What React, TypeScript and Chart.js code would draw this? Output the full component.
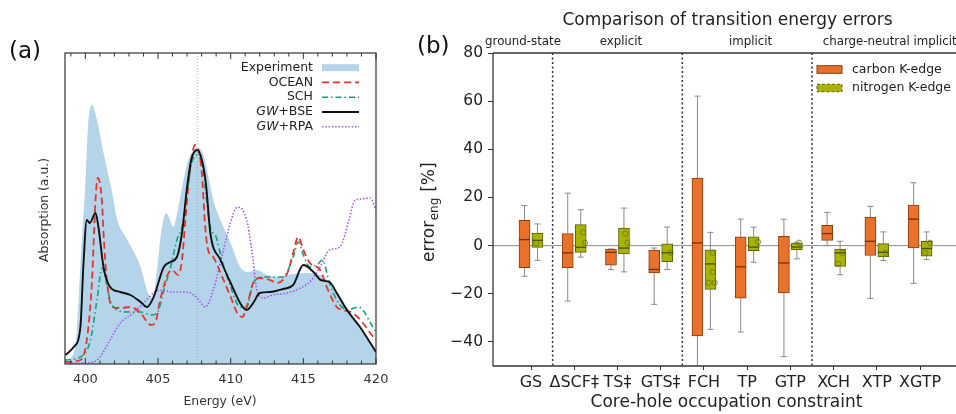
import React, { useEffect, useRef } from "react";
import { Chart, registerables } from "chart.js";

Chart.register(...registerables);

const FONT = "'DejaVu Sans', Verdana, sans-serif";
Chart.defaults.font.family = FONT;

// ---------------- Panel (a): X-ray absorption spectra ----------------
const energyTicks = [400, 405, 410, 415, 420];
const peakEnergy = 407.7;

const expEnergy = [398.6, 399.0, 399.4, 399.7, 400.0, 400.2, 400.46, 400.8, 401.25, 401.85, 402.2, 402.9, 403.8, 404.3, 404.65, 404.9, 405.2, 405.55, 405.8, 406.06, 406.3, 406.5, 407.0, 407.4, 407.7, 408.1, 408.5, 408.8, 409.3, 410.0, 410.65, 411.2, 411.8, 412.5, 413.2, 414.3, 415.25, 416.15, 416.8, 418.0, 418.9, 420.0];
const expAbs = [0, 5, 30, 110, 180, 240, 259, 244, 211, 171, 144, 124, 97, 71, 66, 90, 130, 151, 145, 137, 150, 164, 200, 213, 216, 210, 185, 164, 144, 121, 97, 92, 94, 89, 87, 90, 91, 89, 81, 57, 37, 14];

const oceanEnergy = [398.6, 399.66, 400.1, 400.45, 400.7, 400.85, 401.15, 401.25, 401.5, 401.85, 402.4, 403.1, 403.8, 404.5, 404.8, 405.15, 405.6, 405.95, 406.4, 406.65, 406.9, 407.2, 407.55, 408.0, 408.25, 408.45, 408.8, 409.3, 410.0, 410.45, 410.8, 411.1, 411.55, 412.0, 412.7, 413.2, 413.9, 414.3, 414.65, 415.0, 415.45, 416.15, 416.7, 417.3, 417.7, 418.4, 419.1, 419.7, 420.0];
const oceanAbs = [2, 4, 24, 81, 164, 186, 161, 131, 81, 57, 56, 57, 51, 39, 41, 64, 87, 94, 89, 104, 147, 194, 219, 194, 137, 114, 107, 91, 67, 51, 47, 57, 81, 86, 84, 81, 91, 111, 127, 114, 101, 94, 74, 57, 54, 51, 41, 29, 24];

const schEnergy = [398.6, 399.66, 400.35, 400.8, 401.15, 401.4, 401.7, 402.2, 402.9, 403.8, 404.5, 404.95, 405.4, 405.85, 406.3, 406.65, 407.0, 407.3, 407.7, 408.1, 408.3, 408.6, 409.0, 409.4, 410.0, 410.65, 411.1, 411.55, 412.25, 412.9, 413.6, 414.3, 414.65, 415.0, 415.45, 416.0, 416.3, 416.8, 417.3, 418.0, 418.8, 419.1, 419.7, 420.0];
const schAbs = [4, 7, 24, 64, 96, 85, 64, 54, 52, 52, 49, 51, 74, 96, 124, 137, 170, 200, 209, 195, 170, 137, 127, 104, 77, 57, 57, 81, 87, 87, 87, 107, 122, 109, 97, 100, 104, 81, 64, 54, 57, 54, 39, 32];

const bseEnergy = [398.63, 399.2, 399.66, 399.86, 400.1, 400.3, 400.7, 400.9, 401.25, 401.7, 402.4, 403.1, 403.8, 404.25, 404.7, 405.4, 405.85, 406.3, 406.65, 407.0, 407.3, 407.7, 408.0, 408.3, 408.6, 409.3, 410.0, 410.65, 411.1, 411.55, 412.0, 412.7, 413.6, 414.3, 415.0, 415.7, 416.2, 416.8, 417.3, 418.0, 418.9, 420.0];
const bseAbs = [9, 17, 37, 97, 144, 141, 151, 137, 97, 77, 72, 69, 62, 57, 67, 97, 102, 107, 131, 177, 205, 214, 205, 180, 131, 104, 81, 61, 54, 61, 71, 72, 75, 79, 99, 92, 84, 82, 71, 54, 37, 12];

const rpaEnergy = [398.6, 399.66, 400.55, 401.0, 401.7, 402.4, 403.3, 404.0, 404.7, 405.15, 406.05, 407.0, 407.7, 408.25, 408.8, 409.5, 410.2, 410.5, 411.1, 411.45, 411.8, 412.25, 412.9, 413.9, 414.8, 415.45, 416.15, 416.8, 417.5, 418.2, 418.5, 419.0, 419.6, 420.0];
const rpaAbs = [1, 1, 2, 7, 24, 41, 51, 61, 71, 74, 72, 72, 66, 57, 74, 114, 151, 157, 144, 114, 74, 66, 69, 71, 76, 82, 97, 114, 117, 147, 163, 165, 166, 154];

const legendALabels = ["Experiment", "OCEAN", "SCH", "GW+BSE", "GW+RPA"];

// ---------------- Panel (b): box plots of transition energy errors ----------------
const categories = ["GS", "ΔSCF‡", "TS‡", "GTS‡", "FCH", "TP", "GTP", "XCH", "XTP", "XGTP"];
const errorTicks = [-40, -20, 0, 20, 40, 60, 80];
const groupSeparators = [0.5, 3.5, 6.5];
const groupLabels = ["ground-state", "explicit", "implicit", "charge-neutral implicit"];

const carbonMin = [-12.7, -23.0, -9.9, -24.4, -55, -35.9, -46.1, 0.0, -21.9, -15.7];
const carbonQ1 = [-9.2, -9.2, -8.1, -11.3, -37.5, -21.8, -19.6, 2.2, -4.1, -1.0];
const carbonMed = [2.5, -3.0, -2.8, -9.9, 1.1, -8.8, -7.2, 5.0, 1.8, 11.0];
const carbonQ3 = [10.5, 5.0, -1.4, -1.9, 28.0, 3.6, 3.9, 8.4, 11.9, 16.8];
const carbonMax = [16.6, 21.8, -1.4, -1.0, 62.1, 11.0, 11.0, 13.8, 16.3, 26.1];

const nitrogenMin = [-6.1, -4.8, -10.9, -9.9, -34.8, -6.9, -5.5, -12.1, -6.2, -5.8];
const nitrogenQ1 = [-0.7, -2.8, -3.5, -6.7, -18.2, -2.1, -1.7, -8.6, -4.7, -4.4];
const nitrogenMed = [2.2, -0.7, -1.0, -3.0, -7.6, -0.6, -0.6, -3.0, -2.8, -1.2];
const nitrogenQ3 = [5.2, 8.7, 7.3, 0.7, -1.7, 3.6, 1.1, -1.4, 0.8, 1.8];
const nitrogenMax = [9.0, 14.9, 15.6, 7.7, 5.5, 7.7, 1.4, 1.8, 5.7, 5.7];

// individual nitrogen points: category index, small x jitter, value
const nitrogenPointCat = [0, 1, 1, 2, 2, 3, 4, 4, 4, 4, 5, 6, 7, 7, 8, 9, 9];
const nitrogenPointJitter = [-0.03, 0.05, 0.1, 0.03, 0.08, 0.08, 0.05, 0.05, -0.04, 0.1, 0.1, 0.05, 0.05, -0.05, 0.05, 0.08, -0.03];
const nitrogenPointVal = [1.0, 5.5, 1.2, 5.0, 1.2, -3.0, -3.0, -11.0, -15.4, -15.4, 1.5, 1.2, -3.0, -7.5, -3.0, 1.2, -3.0];

const pts = (xs: number[], ys: number[]) => xs.map((x, i) => ({ x, y: ys[i] }));

const BLUE = "#b3d4e9";
const RED = "#e8352b";
const GREEN = "#17a07a";
const PURPLE = "#a855f7";
const BLACK = "#111111";
const ORANGE = "#e8712b";
const ORANGE_EDGE = "#8a3c0c";
const OLIVE = "#a8b404";
const OLIVE_EDGE = "#5a6104";

function line(ctx: any, x1: number, y1: number, x2: number, y2: number) {
  ctx.beginPath();
  ctx.moveTo(x1, y1);
  ctx.lineTo(x2, y2);
  ctx.stroke();
}

const panelAPlugin = {
  id: "panelA",
  afterDatasetsDraw(chart: any) {
    const { ctx, chartArea: ca, scales } = chart;
    const px = scales.x.getPixelForValue(peakEnergy);
    ctx.save();
    ctx.strokeStyle = "#9a9a9a";
    ctx.lineWidth = 0.8;
    ctx.setLineDash([1, 2]);
    line(ctx, px, ca.top, px, ca.bottom);
    ctx.restore();
  },
  afterDraw(chart: any) {
    const { ctx, chartArea: ca, scales } = chart;
    const x = scales.x;
    ctx.save();
    // frame
    ctx.strokeStyle = "#333";
    ctx.lineWidth = 1.2;
    ctx.strokeRect(ca.left, ca.top, ca.right - ca.left, ca.bottom - ca.top);
    // inward ticks
    ctx.lineWidth = 1;
    for (let e = 399; e <= 420; e++) {
      const p = x.getPixelForValue(e);
      const len = e % 5 === 0 ? 6 : 3.5;
      line(ctx, p, ca.bottom, p, ca.bottom - len);
      line(ctx, p, ca.top, p, ca.top + len);
    }
    // legend
    const rowY0 = 67.7;
    const dy = 14.75;
    const textRight = 313;
    const s0 = 322;
    const s1 = 359;
    ctx.font = `12.5px ${FONT}`;
    ctx.textBaseline = "middle";
    ctx.fillStyle = "#222";
    legendALabels.forEach((lab, i) => {
      const yy = rowY0 + i * dy;
      if (lab.startsWith("GW")) {
        const rest = lab.slice(2);
        ctx.font = `12.5px ${FONT}`;
        const wr = ctx.measureText(rest).width;
        ctx.textAlign = "right";
        ctx.fillText(rest, textRight, yy);
        ctx.font = `italic 12.5px ${FONT}`;
        ctx.fillText("GW", textRight - wr, yy);
        ctx.font = `12.5px ${FONT}`;
      } else {
        ctx.textAlign = "right";
        ctx.fillText(lab, textRight, yy);
      }
      ctx.setLineDash([]);
      if (i === 0) {
        ctx.fillStyle = BLUE;
        ctx.fillRect(s0, yy - 3.5, s1 - s0, 7);
        ctx.fillStyle = "#222";
      } else if (i === 1) {
        ctx.strokeStyle = RED;
        ctx.lineWidth = 1.8;
        ctx.setLineDash([7, 4]);
        line(ctx, s0, yy, s1, yy);
      } else if (i === 2) {
        ctx.strokeStyle = GREEN;
        ctx.lineWidth = 1.6;
        ctx.setLineDash([6, 3, 1.5, 3]);
        line(ctx, s0, yy, s1, yy);
      } else if (i === 3) {
        ctx.strokeStyle = BLACK;
        ctx.lineWidth = 1.9;
        line(ctx, s0, yy, s1, yy);
      } else {
        ctx.strokeStyle = PURPLE;
        ctx.lineWidth = 1.6;
        ctx.setLineDash([1.5, 1.8]);
        line(ctx, s0, yy, s1, yy);
      }
    });
    ctx.setLineDash([]);
    // panel label
    ctx.fillStyle = "#111";
    ctx.textAlign = "left";
    ctx.font = `23px ${FONT}`;
    ctx.fillText("(a)", 9, 52);
    // axis titles
    ctx.fillStyle = "#333";
    ctx.font = `12.4px ${FONT}`;
    ctx.textAlign = "center";
    ctx.fillText("Energy (eV)", 220, 402);
    ctx.translate(45, 210);
    ctx.rotate(-Math.PI / 2);
    ctx.fillText("Absorption (a.u.)", 0, 0);
    ctx.restore();
  },
};

const panelBPlugin = {
  id: "panelB",
  beforeDatasetsDraw(chart: any) {
    const { ctx, chartArea: ca, scales } = chart;
    const { x, y } = scales;
    ctx.save();
    ctx.beginPath();
    ctx.rect(ca.left, ca.top, ca.right - ca.left, ca.bottom - ca.top);
    ctx.clip();
    // zero line
    ctx.strokeStyle = "#8c8c8c";
    ctx.lineWidth = 1;
    const y0 = y.getPixelForValue(0);
    line(ctx, ca.left, y0, ca.right, y0);
    // separators
    ctx.strokeStyle = "#333";
    ctx.lineWidth = 1.5;
    ctx.setLineDash([2, 2.5]);
    groupSeparators.forEach((s) => {
      const p = x.getPixelForValue(s);
      line(ctx, p, ca.top, p, ca.bottom);
    });
    ctx.setLineDash([]);
    // whiskers
    const series = [
      { off: -0.15, mn: carbonMin, q1: carbonQ1, q3: carbonQ3, mx: carbonMax },
      { off: 0.15, mn: nitrogenMin, q1: nitrogenQ1, q3: nitrogenQ3, mx: nitrogenMax },
    ];
    ctx.strokeStyle = "#8a8a8a";
    ctx.lineWidth = 1;
    series.forEach((s) => {
      categories.forEach((_, i) => {
        const cx = x.getPixelForValue(i + s.off);
        const pMin = y.getPixelForValue(s.mn[i]);
        const pQ1 = y.getPixelForValue(s.q1[i]);
        const pQ3 = y.getPixelForValue(s.q3[i]);
        const pMax = y.getPixelForValue(s.mx[i]);
        line(ctx, cx, pQ1, cx, pMin);
        line(ctx, cx, pQ3, cx, pMax);
        line(ctx, cx - 3, pMin, cx + 3, pMin);
        line(ctx, cx - 3, pMax, cx + 3, pMax);
      });
    });
    ctx.restore();
  },
  afterDatasetsDraw(chart: any) {
    const { ctx, scales } = chart;
    const { x, y } = scales;
    ctx.save();
    ctx.lineWidth = 1.3;
    categories.forEach((_, i) => {
      const c = x.getPixelForValue(i - 0.15);
      const n = x.getPixelForValue(i + 0.15);
      ctx.strokeStyle = "#7a3205";
      const pc = y.getPixelForValue(carbonMed[i]);
      line(ctx, c - 5.5, pc, c + 5.5, pc);
      ctx.strokeStyle = "#4a5000";
      const pn = y.getPixelForValue(nitrogenMed[i]);
      line(ctx, n - 5.5, pn, n + 5.5, pn);
    });
    ctx.strokeStyle = "#6b7010";
    ctx.lineWidth = 0.8;
    nitrogenPointCat.forEach((c, k) => {
      const px = x.getPixelForValue(c + 0.15 + nitrogenPointJitter[k]);
      const py = y.getPixelForValue(nitrogenPointVal[k]);
      ctx.beginPath();
      ctx.arc(px, py, 2.6, 0, Math.PI * 2);
      ctx.stroke();
    });
    ctx.restore();
  },
  afterDraw(chart: any) {
    const { ctx, chartArea: ca } = chart;
    ctx.save();
    // spines
    ctx.strokeStyle = "#333";
    ctx.lineWidth = 1.3;
    line(ctx, ca.left, ca.top, ca.left, ca.bottom);
    line(ctx, ca.left, ca.top, ca.right + 10, ca.top);
    line(ctx, ca.left, ca.bottom, ca.right + 10, ca.bottom);
    // legend
    ctx.lineWidth = 1;
    ctx.fillStyle = ORANGE;
    ctx.fillRect(417, 65.7, 25, 7.6);
    ctx.strokeStyle = ORANGE_EDGE;
    ctx.strokeRect(417, 65.7, 25, 7.6);
    ctx.fillStyle = OLIVE;
    ctx.fillRect(417, 84.3, 25, 7.4);
    ctx.strokeStyle = OLIVE_EDGE;
    ctx.setLineDash([3, 2]);
    ctx.strokeRect(417, 84.3, 25, 7.4);
    ctx.setLineDash([]);
    ctx.fillStyle = "#222";
    ctx.font = `12.5px ${FONT}`;
    ctx.textAlign = "left";
    ctx.textBaseline = "middle";
    ctx.fillText("carbon K-edge", 452, 69.7);
    ctx.fillText("nitrogen K-edge", 452, 88.2);
    // title
    ctx.font = `17px ${FONT}`;
    ctx.textAlign = "center";
    ctx.fillStyle = "#222";
    ctx.fillText("Comparison of transition energy errors", 327.5, 21);
    // group labels
    ctx.font = `11.8px ${FONT}`;
    ctx.fillText(groupLabels[0], 123, 42);
    ctx.fillText(groupLabels[1], 221, 42);
    ctx.fillText(groupLabels[2], 350.5, 42);
    ctx.textAlign = "left";
    ctx.fillText(groupLabels[3], 422.7, 42);
    // panel label
    ctx.fillStyle = "#111";
    ctx.font = `23px ${FONT}`;
    ctx.fillText("(b)", 17, 47);
    // x title
    ctx.fillStyle = "#222";
    ctx.font = `17px ${FONT}`;
    ctx.textAlign = "center";
    ctx.fillText("Core-hole occupation constraint", 326.5, 403);
    // y title (rotated, with subscript)
    ctx.translate(30, 262);
    ctx.rotate(-Math.PI / 2);
    ctx.textAlign = "left";
    ctx.font = `17px ${FONT}`;
    const w1 = ctx.measureText("error").width;
    ctx.fillText("error", 0, 0);
    ctx.font = `12px ${FONT}`;
    const w2 = ctx.measureText("eng").width;
    ctx.fillText("eng", w1 + 0.5, 5);
    ctx.font = `17px ${FONT}`;
    ctx.fillText(" [%]", w1 + w2 + 1, 0);
    ctx.restore();
  },
};

export default function App() {
  const refA = useRef<HTMLCanvasElement>(null);
  const refB = useRef<HTMLCanvasElement>(null);

  useEffect(() => {
    const lineDs = (label: string, xs: number[], ys: number[], color: string, width: number, dash: number[], order: number) => ({
      label,
      data: pts(xs, ys),
      borderColor: color,
      borderWidth: width,
      borderDash: dash,
      pointRadius: 0,
      fill: false,
      cubicInterpolationMode: "monotone",
      order,
    });

    const chartA = new Chart(refA.current as HTMLCanvasElement, {
      type: "line",
      data: {
        datasets: [
          {
            label: "Experiment",
            data: pts(expEnergy, expAbs),
            backgroundColor: BLUE,
            borderColor: BLUE,
            borderWidth: 0,
            pointRadius: 0,
            fill: "origin",
            cubicInterpolationMode: "monotone",
            order: 10,
          },
          lineDs("GW+RPA", rpaEnergy, rpaAbs, PURPLE, 1.6, [1.5, 1.8], 5),
          lineDs("SCH", schEnergy, schAbs, GREEN, 1.6, [6, 3, 1.5, 3], 4),
          lineDs("OCEAN", oceanEnergy, oceanAbs, RED, 1.8, [7, 4], 3),
          lineDs("GW+BSE", bseEnergy, bseAbs, BLACK, 1.9, [], 2),
        ] as any,
      },
      options: {
        responsive: false,
        animation: false,
        devicePixelRatio: 1,
        layout: { padding: { left: 65, right: 24, top: 53, bottom: 0 } },
        plugins: { legend: { display: false }, tooltip: { enabled: false } },
        scales: {
          x: {
            type: "linear",
            min: 398.6,
            max: 420,
            grid: { display: false, drawTicks: false },
            border: { display: false },
            ticks: { font: { family: FONT, size: 13 }, color: "#333", padding: 8, maxRotation: 0, autoSkip: false },
            afterBuildTicks: (s: any) => {
              s.ticks = energyTicks.map((v) => ({ value: v }));
            },
            afterFit: (s: any) => {
              s.height = 50;
            },
          },
          y: { display: false, min: 0, max: 311 },
        },
      } as any,
      plugins: [panelAPlugin],
    });

    const chartB = new Chart(refB.current as HTMLCanvasElement, {
      type: "bar",
      data: {
        datasets: [
          {
            label: "carbon K-edge",
            data: categories.map((_, i) => ({ x: i - 0.15, y: [carbonQ1[i], carbonQ3[i]] })),
            backgroundColor: ORANGE,
            borderColor: ORANGE_EDGE,
            borderWidth: 1,
            borderSkipped: false,
            barThickness: 11,
            grouped: false,
          },
          {
            label: "nitrogen K-edge",
            data: categories.map((_, i) => ({ x: i + 0.15, y: [nitrogenQ1[i], nitrogenQ3[i]] })),
            backgroundColor: OLIVE,
            borderColor: OLIVE_EDGE,
            borderWidth: 1,
            borderSkipped: false,
            barThickness: 11,
            grouped: false,
          },
        ] as any,
      },
      options: {
        responsive: false,
        animation: false,
        devicePixelRatio: 1,
        layout: { padding: { left: 0, right: 5, top: 53, bottom: 0 } },
        plugins: { legend: { display: false }, tooltip: { enabled: false } },
        scales: {
          x: {
            type: "linear",
            min: -0.879,
            max: 10.27,
            offset: false,
            grid: { display: true, drawOnChartArea: false, drawTicks: true, tickLength: 4, color: "#333", offset: false },
            border: { display: false },
            ticks: {
              font: { family: FONT, size: 16 },
              color: "#222",
              padding: 3,
              maxRotation: 0,
              autoSkip: false,
              callback: (v: any) => categories[Math.round(v)] ?? "",
            },
            afterBuildTicks: (s: any) => {
              s.ticks = categories.map((_, i) => ({ value: i }));
            },
            afterFit: (s: any) => {
              s.height = 48;
            },
          },
          y: {
            min: -50,
            max: 80,
            grid: { display: true, drawOnChartArea: false, drawTicks: true, tickLength: 5, color: "#333" },
            border: { display: false },
            ticks: {
              font: { family: FONT, size: 15.5 },
              color: "#222",
              padding: 5,
              callback: (v: any) => (v < 0 ? "\u2212" + Math.abs(v) : String(v)),
            },
            afterBuildTicks: (s: any) => {
              s.ticks = errorTicks.map((v) => ({ value: v }));
            },
            afterFit: (s: any) => {
              s.width = 93;
            },
          },
        },
      } as any,
      plugins: [panelBPlugin],
    });

    return () => {
      chartA.destroy();
      chartB.destroy();
    };
  }, []);

  return (
    <div style={{ position: "fixed", left: 0, top: 0, width: 956, height: 414, overflow: "hidden", background: "#fff" }}>
      <canvas ref={refA} width={400} height={414} style={{ position: "absolute", left: 0, top: 0, width: 400, height: 414 }} />
      <canvas ref={refB} width={580} height={414} style={{ position: "absolute", left: 400, top: 0, width: 580, height: 414 }} />
    </div>
  );
}
